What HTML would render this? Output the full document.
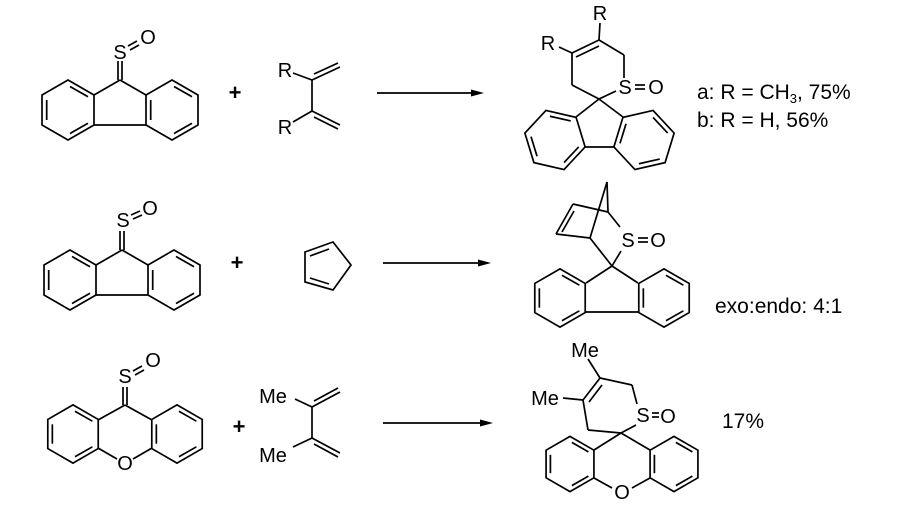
<!DOCTYPE html>
<html><head><meta charset="utf-8"><style>
html,body{margin:0;padding:0;background:#fff;}
svg{display:block;}
text{font-family:"Liberation Sans",Arial,sans-serif;fill:#000;}
.at text{font-size:20px;}
.lb text{font-size:21px;}
</style></head><body>
<svg width="900" height="511" viewBox="0 0 900 511" xmlns="http://www.w3.org/2000/svg">
<defs>
<g id="ring">
<polygon points="0,-30 -26,-15 -26,15 0,30 26,15 26,-15" fill="none" stroke="#000" stroke-width="1.7" vector-effect="non-scaling-stroke"/>
<line x1="-21.3" y1="-10" x2="-21.3" y2="10" stroke="#000" stroke-width="1.7" vector-effect="non-scaling-stroke"/>
<line x1="2" y1="-23.5" x2="20" y2="-13.2" stroke="#000" stroke-width="1.7" vector-effect="non-scaling-stroke"/>
<line x1="2" y1="23.5" x2="20" y2="13.2" stroke="#000" stroke-width="1.7" vector-effect="non-scaling-stroke"/>
</g>
</defs>
<g stroke="#000" stroke-width="1.7" fill="none">
<line x1="120" y1="80" x2="94" y2="95"/><line x1="120" y1="80" x2="146" y2="95"/><line x1="94" y1="125" x2="146" y2="125"/>
<line x1="118" y1="80" x2="118" y2="61"/><line x1="122" y1="80" x2="122" y2="61"/>
<line x1="128" y1="46" x2="137" y2="41"/><line x1="130" y1="50" x2="139" y2="45"/>
<line x1="293" y1="73" x2="312" y2="80"/><line x1="312" y1="80" x2="340" y2="67"/><line x1="314" y1="74" x2="338" y2="63"/>
<line x1="312" y1="80" x2="312" y2="111"/>
<line x1="312" y1="111" x2="340" y2="125"/><line x1="314" y1="117" x2="338" y2="129"/>
<line x1="293" y1="122" x2="312" y2="111"/>
<line x1="377" y1="93" x2="474" y2="93"/>
<line x1="599" y1="99" x2="616" y2="91"/><line x1="624" y1="78" x2="624" y2="55"/>
<line x1="624" y1="55" x2="599" y2="40"/><line x1="599" y1="40" x2="600" y2="23"/>
<line x1="599" y1="40" x2="572" y2="53"/><line x1="599" y1="46" x2="576" y2="57"/>
<line x1="572" y1="53" x2="559" y2="47"/><line x1="572" y1="53" x2="572" y2="85"/>
<line x1="572" y1="85" x2="599" y2="99"/>
<line x1="599" y1="99" x2="576" y2="117"/><line x1="599" y1="99" x2="623" y2="117"/>
<line x1="584" y1="147" x2="614" y2="147"/>
<line x1="635" y1="85" x2="645" y2="85"/><line x1="635" y1="89" x2="645" y2="89"/>
<line x1="122" y1="250" x2="96" y2="265"/><line x1="122" y1="250" x2="148" y2="265"/><line x1="96" y1="295" x2="148" y2="295"/>
<line x1="120" y1="250" x2="120" y2="231"/><line x1="124" y1="250" x2="124" y2="231"/>
<line x1="131" y1="215" x2="140" y2="211"/><line x1="133" y1="219" x2="142" y2="215"/>
<polygon points="305,252 333,242 351,265 333,290 305,282"/>
<line x1="310" y1="256" x2="329" y2="249"/><line x1="310" y1="278" x2="329" y2="284"/>
<line x1="383" y1="263" x2="480" y2="263"/>
<line x1="573" y1="204" x2="556" y2="234"/><line x1="574" y1="211" x2="562" y2="232"/>
<line x1="573" y1="204" x2="608" y2="212"/><line x1="556" y1="234" x2="590" y2="238"/>
<line x1="607" y1="182" x2="608" y2="212"/><line x1="607" y1="182" x2="590" y2="238"/>
<line x1="608" y1="212" x2="620" y2="227"/><line x1="590" y1="238" x2="612" y2="266"/>
<line x1="621" y1="251" x2="612" y2="266"/>
<line x1="612" y1="266" x2="586" y2="283"/><line x1="612" y1="266" x2="638" y2="283"/>
<line x1="586" y1="312" x2="638" y2="312"/>
<line x1="638" y1="238" x2="648" y2="238"/><line x1="638" y1="242" x2="648" y2="242"/>
<line x1="125" y1="405" x2="98" y2="420"/><line x1="125" y1="405" x2="152" y2="420"/>
<line x1="98" y1="448" x2="117" y2="459"/><line x1="152" y1="448" x2="133" y2="459"/>
<line x1="123" y1="405" x2="123" y2="387"/><line x1="127" y1="405" x2="127" y2="387"/>
<line x1="133" y1="371" x2="142" y2="366"/><line x1="135" y1="375" x2="144" y2="370"/>
<line x1="295" y1="399" x2="312" y2="407"/><line x1="312" y1="407" x2="340" y2="392"/><line x1="314" y1="401" x2="338" y2="388"/>
<line x1="312" y1="407" x2="312" y2="438"/>
<line x1="312" y1="438" x2="340" y2="453"/><line x1="314" y1="444" x2="338" y2="457"/>
<line x1="293" y1="447" x2="312" y2="438"/>
<line x1="383" y1="423" x2="482" y2="423"/>
<line x1="588" y1="359" x2="600" y2="378"/><line x1="600" y1="378" x2="632" y2="385"/>
<line x1="632" y1="385" x2="637" y2="404"/><line x1="636" y1="425" x2="621" y2="433"/>
<line x1="600" y1="378" x2="583" y2="400"/><line x1="602" y1="385" x2="589" y2="402"/>
<line x1="563" y1="398" x2="583" y2="400"/><line x1="583" y1="400" x2="588" y2="430"/>
<line x1="588" y1="430" x2="621" y2="433"/>
<line x1="621" y1="433" x2="594" y2="450"/><line x1="621" y1="433" x2="650" y2="450"/>
<line x1="594" y1="478" x2="612" y2="488"/><line x1="650" y1="478" x2="632" y2="488"/>
<line x1="652" y1="413" x2="659" y2="413"/><line x1="652" y1="417" x2="659" y2="417"/>
</g>
<g fill="#000">
<polygon points="484,93 471,89.5 471,96.5"/>
<polygon points="491,263 478,259.5 478,266.5"/>
<polygon points="493,423 480,419.5 480,426.5"/>
</g>
<use href="#ring" transform="translate(68,110)"/>
<use href="#ring" transform="translate(172,110)"/>
<use href="#ring" transform="translate(555,140) rotate(-17) scale(1.03)"/>
<use href="#ring" transform="translate(644,140) rotate(17) scale(1.03)"/>
<use href="#ring" transform="translate(70,280)"/>
<use href="#ring" transform="translate(174,280)"/>
<use href="#ring" transform="translate(560,298) scale(0.97)"/>
<use href="#ring" transform="translate(664,298) scale(0.97)"/>
<use href="#ring" transform="translate(73,434) scale(0.97)"/>
<use href="#ring" transform="translate(177,434) scale(0.97)"/>
<use href="#ring" transform="translate(570,464) scale(0.92)"/>
<use href="#ring" transform="translate(674,464) scale(0.92)"/>
<g class="at" text-anchor="middle">
<text x="120" y="59">S</text><text x="148" y="44">O</text>
<text x="235" y="100" style="font-size:22px;font-weight:bold">+</text>
<text x="285" y="77">R</text><text x="285" y="134">R</text>
<text x="625" y="94">S</text><text x="656" y="94">O</text>
<text x="600" y="20">R</text><text x="548" y="50">R</text>
<text x="123" y="227">S</text><text x="150" y="215">O</text>
<text x="237" y="270" style="font-size:22px;font-weight:bold">+</text>
<text x="628" y="247">S</text><text x="658" y="247">O</text>
<text x="125" y="383">S</text><text x="153" y="367">O</text>
<text x="125" y="470">O</text>
<text x="239" y="434" style="font-size:22px;font-weight:bold">+</text>
<text x="273" y="403">Me</text><text x="273" y="462">Me</text>
<text x="585" y="357">Me</text><text x="545" y="405">Me</text>
<text x="643" y="422">S</text><text x="668" y="423">O</text>
<text x="622" y="499">O</text>
</g>
<g class="lb">
<text x="697" y="99">a: R = CH<tspan style="font-size:13px" dy="4">3</tspan><tspan dy="-4">, 75%</tspan></text>
<text x="697" y="127">b: R = H, 56%</text>
<text x="715" y="313">exo:endo: 4:1</text>
<text x="722" y="428">17%</text>
</g>
</svg>
</body></html>
